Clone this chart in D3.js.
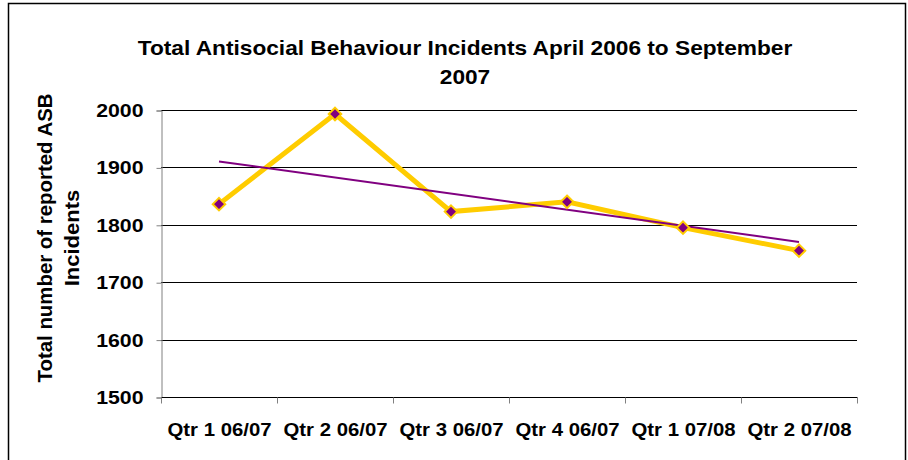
<!DOCTYPE html>
<html>
<head>
<meta charset="utf-8">
<script src="https://cdn.jsdelivr.net/npm/d3@7"></script>
<style>
  html, body { margin: 0; padding: 0; background: #fff; }
  svg { display: block; font-family: "Liberation Sans", Arial, sans-serif; }
</style>
</head>
<body>
<svg id="chart" width="908" height="460"></svg>
<script>
// Quarterly antisocial behaviour incident counts
const categories = ["Qtr 1 06/07", "Qtr 2 06/07", "Qtr 3 06/07", "Qtr 4 06/07", "Qtr 1 07/08", "Qtr 2 07/08"];
const incidents = [1836, 1993, 1823, 1840, 1795, 1755];
const yTicks = [1500, 1600, 1700, 1800, 1900, 2000];
const titleLines = ["Total Antisocial Behaviour Incidents April 2006 to September", "2007"];
const yTitleLines = ["Total number of reported ASB", "Incidents"];

const svg = d3.select("#chart");
const plot = { left: 161, right: 857, top: 110, bottom: 397 };

// widen glyphs horizontally, keeping the anchor point
function stretch(sel, k) {
  sel.each(function () {
    const w = this.getComputedTextLength();
    d3.select(this).attr("textLength", w * k).attr("lengthAdjust", "spacingAndGlyphs");
  });
}

// outer frame
svg.append("rect")
  .attr("x", 8.5).attr("y", 3.5)
  .attr("width", 897).attr("height", 480)
  .attr("fill", "none").attr("stroke", "#000").attr("stroke-width", 1.5);

const x = d3.scaleBand().domain(categories).range([plot.left, plot.right]).padding(0);
const y = d3.scaleLinear().domain([1500, 2000]).range([plot.bottom, plot.top]);

// horizontal gridlines
svg.append("g")
  .selectAll("line")
  .data(yTicks.filter(d => d > 1500))
  .join("line")
  .attr("x1", plot.left).attr("x2", plot.right)
  .attr("y1", d => Math.round(y(d)) + 0.5).attr("y2", d => Math.round(y(d)) + 0.5)
  .attr("stroke", "#000").attr("stroke-width", 1);

// y axis
const yAxis = svg.append("g")
  .attr("transform", `translate(${plot.left + 0.5},0.5)`)
  .call(d3.axisLeft(y).tickValues(yTicks).tickSize(5).tickPadding(13).tickFormat(d3.format("d")));
yAxis.select(".domain").attr("stroke", "#808080");
yAxis.selectAll(".tick line").attr("stroke", "#808080");
yAxis.selectAll("text")
  .attr("font-size", 18.5).attr("font-weight", "bold").attr("fill", "#000")
  .attr("font-family", "Liberation Sans, Arial, sans-serif")
  .call(stretch, 1.15);

// x axis with ticks at category boundaries
const xAxis = svg.append("g")
  .attr("transform", `translate(0.5,${plot.bottom + 0.5})`)
  .call(d3.axisBottom(x).tickSize(0).tickPadding(26));
xAxis.select(".domain").attr("stroke", "#000").attr("d", `M${plot.left},0H${plot.right}`);
xAxis.selectAll("text")
  .attr("font-size", 18).attr("font-weight", "bold").attr("fill", "#000")
  .attr("font-family", "Liberation Sans, Arial, sans-serif")
  .call(stretch, 1.13);
const bounds = categories.map(c => x(c)).concat([x(categories[categories.length - 1]) + x.bandwidth()]);
xAxis.append("g").selectAll("line")
  .data(bounds).join("line")
  .attr("x1", d => Math.round(d)).attr("x2", d => Math.round(d))
  .attr("y1", 0).attr("y2", 6)
  .attr("stroke", "#808080");

const cx = d => x(d) + x.bandwidth() / 2;

// data line
const line = d3.line().x((d, i) => cx(categories[i])).y(d => y(d));
svg.append("path")
  .datum(incidents)
  .attr("d", line)
  .attr("fill", "none")
  .attr("stroke", "#FFCC00")
  .attr("stroke-width", 5)
  .attr("stroke-linejoin", "miter");

// linear trendline (least squares over category index)
const n = incidents.length;
const xs = d3.range(1, n + 1);
const mx = d3.mean(xs), my = d3.mean(incidents);
const slope = d3.sum(xs, (v, i) => (v - mx) * (incidents[i] - my)) / d3.sum(xs, v => (v - mx) ** 2);
const icpt = my - slope * mx;
svg.append("line")
  .attr("x1", cx(categories[0])).attr("y1", y(icpt + slope * 1))
  .attr("x2", cx(categories[n - 1])).attr("y2", y(icpt + slope * n))
  .attr("stroke", "#800080").attr("stroke-width", 2);

// diamond markers
const diamond = d3.symbol().type(d3.symbolDiamond2).size(100);
svg.append("g")
  .selectAll("path")
  .data(incidents)
  .join("path")
  .attr("d", diamond)
  .attr("transform", (d, i) => `translate(${cx(categories[i])},${y(d)})`)
  .attr("fill", "#800080")
  .attr("stroke", "#FFCC00")
  .attr("stroke-width", 2);

// title
svg.append("g")
  .selectAll("text")
  .data(titleLines).join("text")
  .attr("x", 465).attr("y", (d, i) => 55 + i * 29)
  .attr("text-anchor", "middle")
  .attr("font-size", 21).attr("font-weight", "bold")
  .text(d => d)
  .call(stretch, 1.08);

// y axis title
svg.append("g")
  .attr("transform", "translate(52,238) rotate(-90)")
  .selectAll("text")
  .data(yTitleLines).join("text")
  .attr("x", 0).attr("y", (d, i) => i * 27)
  .attr("text-anchor", "middle")
  .attr("font-size", 20).attr("font-weight", "bold")
  .text(d => d)
  .each(function (d, i) { d3.select(this).call(stretch, i === 0 ? 1.02 : 1.1); });
</script>
</body>
</html>
